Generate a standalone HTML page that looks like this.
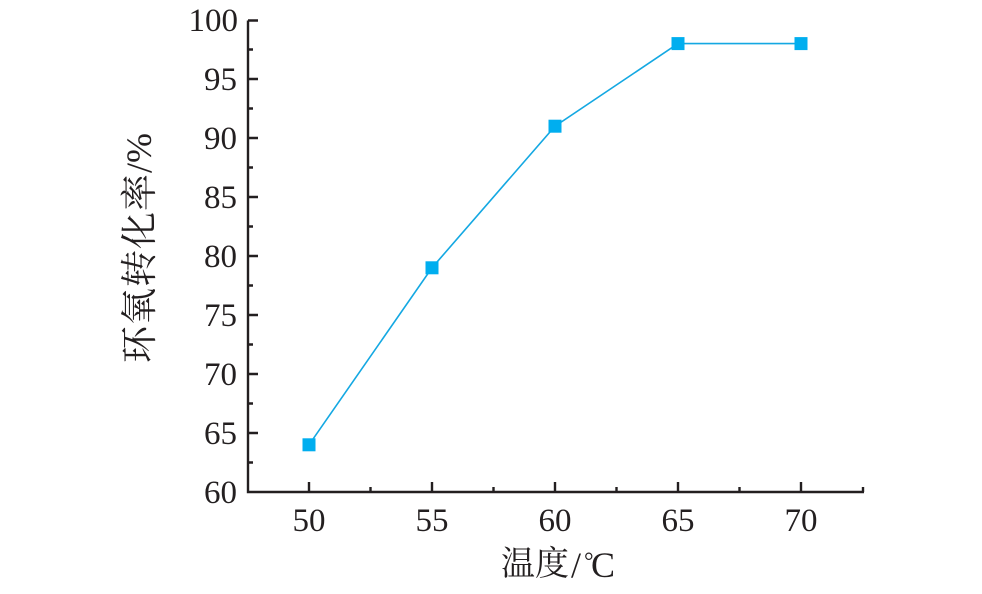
<!DOCTYPE html>
<html>
<head>
<meta charset="utf-8">
<style>
html,body{margin:0;padding:0;background:#fff;}
svg{display:block;}
.n{font-family:"Liberation Serif",serif;fill:#231f20;}
.c{font-family:"Noto Serif CJK SC","Liberation Serif",serif;fill:#231f20;}
</style>
</head>
<body>
<svg width="982" height="594" viewBox="0 0 982 594" xmlns="http://www.w3.org/2000/svg">
<g stroke="#231f20" stroke-width="2.4" fill="none">
  <path d="M248 20.5 V492 H864"/>
  <path d="M248 20.5h10 M248 79h10 M248 138h10 M248 197h10 M248 256h10 M248 315h10 M248 374h10 M248 433h10"/>
  <path d="M248 49.5h5 M248 108.5h5 M248 167.5h5 M248 226.5h5 M248 285.5h5 M248 344.5h5 M248 403.5h5 M248 462.5h5"/>
  <path d="M309 492v-10 M432 492v-10 M555 492v-10 M678 492v-10 M801 492v-10"/>
  <path d="M370.5 492v-5 M493.5 492v-5 M616.5 492v-5 M739.5 492v-5 M863 492v-5"/>
</g>
<g class="n" font-size="33" text-anchor="end">
  <text x="238" y="31">100</text>
  <text x="237" y="90">95</text>
  <text x="237" y="149">90</text>
  <text x="237" y="208">85</text>
  <text x="237" y="267">80</text>
  <text x="237" y="326">75</text>
  <text x="237" y="385">70</text>
  <text x="237" y="444">65</text>
  <text x="237" y="503">60</text>
</g>
<g class="n" font-size="33" text-anchor="middle">
  <text x="309" y="531">50</text>
  <text x="432" y="531">55</text>
  <text x="555" y="531">60</text>
  <text x="678" y="531">65</text>
  <text x="801" y="531">70</text>
</g>
<!-- x title -->
<text class="c" font-size="34" x="501" y="575">温度</text>
<text class="n" font-size="36" x="571" y="577">/</text>
<text class="n" font-size="24" x="584" y="569">°</text>
<text class="n" font-size="36" x="591" y="577">C</text>
<!-- y title -->
<g transform="translate(152,363) rotate(-90)">
  <text class="c" font-size="37" x="0" y="0" letter-spacing="1">环氧转化率</text>
  <text class="n" font-size="36" x="190" y="-1">/%</text>
</g>
<polyline points="309,444.8 432,267.8 555,126.2 678,43.6 801,43.6" fill="none" stroke="#14a8e2" stroke-width="1.6"/>
<g fill="#00aeef">
  <rect x="302.5" y="438.3" width="13" height="13"/>
  <rect x="425.5" y="261.3" width="13" height="13"/>
  <rect x="548.5" y="119.7" width="13" height="13"/>
  <rect x="671.5" y="37.1" width="13" height="13"/>
  <rect x="794.5" y="37.1" width="13" height="13"/>
</g>
</svg>
</body>
</html>
